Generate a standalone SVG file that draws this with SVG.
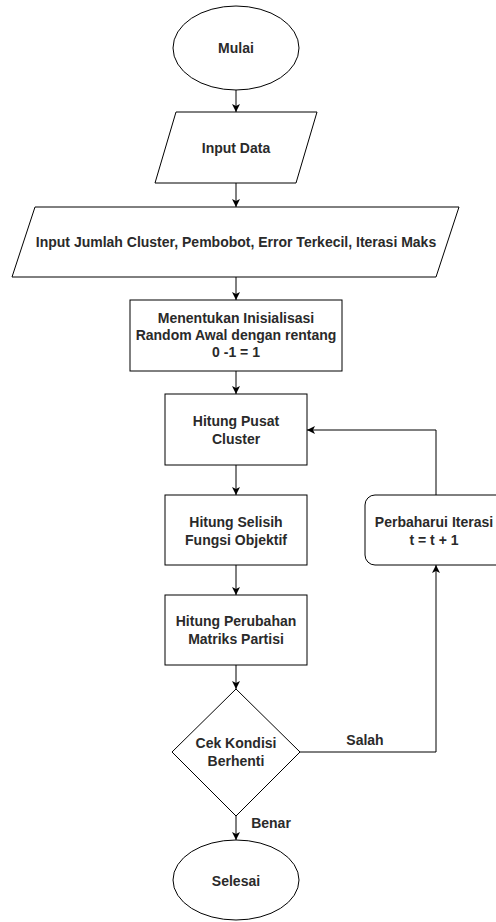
<svg xmlns="http://www.w3.org/2000/svg" width="496" height="922" viewBox="0 0 496 922">
<style>
.s{fill:#fff;stroke:#000;stroke-width:1}
.t{font-family:"Liberation Sans",Arial,sans-serif;font-size:14px;font-weight:bold;fill:#2a2a2a;text-anchor:middle;dominant-baseline:central}
.e{fill:none;stroke:#000;stroke-width:1}
</style>
<defs>
<marker id="a" markerWidth="10" markerHeight="10" refX="8" refY="5" orient="auto" markerUnits="userSpaceOnUse">
<path d="M0,1 L8,5 L0,9 L2,5 Z" fill="#000"/>
</marker>
</defs>
<g id="connectors">
<path class="e" d="M236,90 V112" marker-end="url(#a)"/>
<path class="e" d="M236,183 V207" marker-end="url(#a)"/>
<path class="e" d="M236,277 V300" marker-end="url(#a)"/>
<path class="e" d="M236,371 V394" marker-end="url(#a)"/>
<path class="e" d="M236,465 V495" marker-end="url(#a)"/>
<path class="e" d="M236,565 V595" marker-end="url(#a)"/>
<path class="e" d="M236,665 V689" marker-end="url(#a)"/>
<path class="e" d="M236,816 V840" marker-end="url(#a)"/>
<path class="e" d="M300,752 H436 V565" marker-end="url(#a)"/>
<path class="e" d="M436,495 V430 H307" marker-end="url(#a)"/>
<text class="t" x="365" y="740">Salah</text>
<text class="t" x="271" y="823">Benar</text>
</g>
<g id="mulai">
<ellipse class="s" cx="236" cy="48" rx="63" ry="42"/>
<text class="t" x="236" y="48">Mulai</text>
</g>
<g id="input-data">
<polygon class="s" points="176,112 317,112 296,183 155,183"/>
<text class="t" x="236" y="148">Input Data</text>
</g>
<g id="input-param">
<polygon class="s" points="35,207 459,207 436,277 12,277"/>
<text class="t" x="236" y="242">Input Jumlah Cluster, Pembobot, Error Terkecil, Iterasi Maks</text>
</g>
<g id="inisialisasi">
<rect class="s" x="130" y="300" width="212" height="71"/>
<text class="t" x="236" y="318">Menentukan Inisialisasi</text>
<text class="t" x="236" y="335">Random Awal dengan rentang</text>
<text class="t" x="236" y="352">0 -1 = 1</text>
</g>
<g id="pusat">
<rect class="s" x="165" y="394" width="142" height="71"/>
<text class="t" x="236" y="421">Hitung Pusat</text>
<text class="t" x="236" y="439">Cluster</text>
</g>
<g id="selisih">
<rect class="s" x="165" y="495" width="142" height="70"/>
<text class="t" x="236" y="522">Hitung Selisih</text>
<text class="t" x="236" y="540">Fungsi Objektif</text>
</g>
<g id="perubahan">
<rect class="s" x="165" y="595" width="142" height="70"/>
<text class="t" x="236" y="621">Hitung Perubahan</text>
<text class="t" x="236" y="639">Matriks Partisi</text>
</g>
<g id="perbaharui">
<rect class="s" x="365" y="495" width="142" height="70" rx="10" ry="10"/>
<text class="t" x="434" y="522">Perbaharui Iterasi</text>
<text class="t" x="434" y="540">t = t + 1</text>
</g>
<g id="cek">
<polygon class="s" points="236,689 300,752 236,816 172,752"/>
<text class="t" x="236" y="743">Cek Kondisi</text>
<text class="t" x="236" y="761">Berhenti</text>
</g>
<g id="selesai">
<ellipse class="s" cx="236" cy="880" rx="63" ry="40"/>
<text class="t" x="236" y="881">Selesai</text>
</g>
</svg>
